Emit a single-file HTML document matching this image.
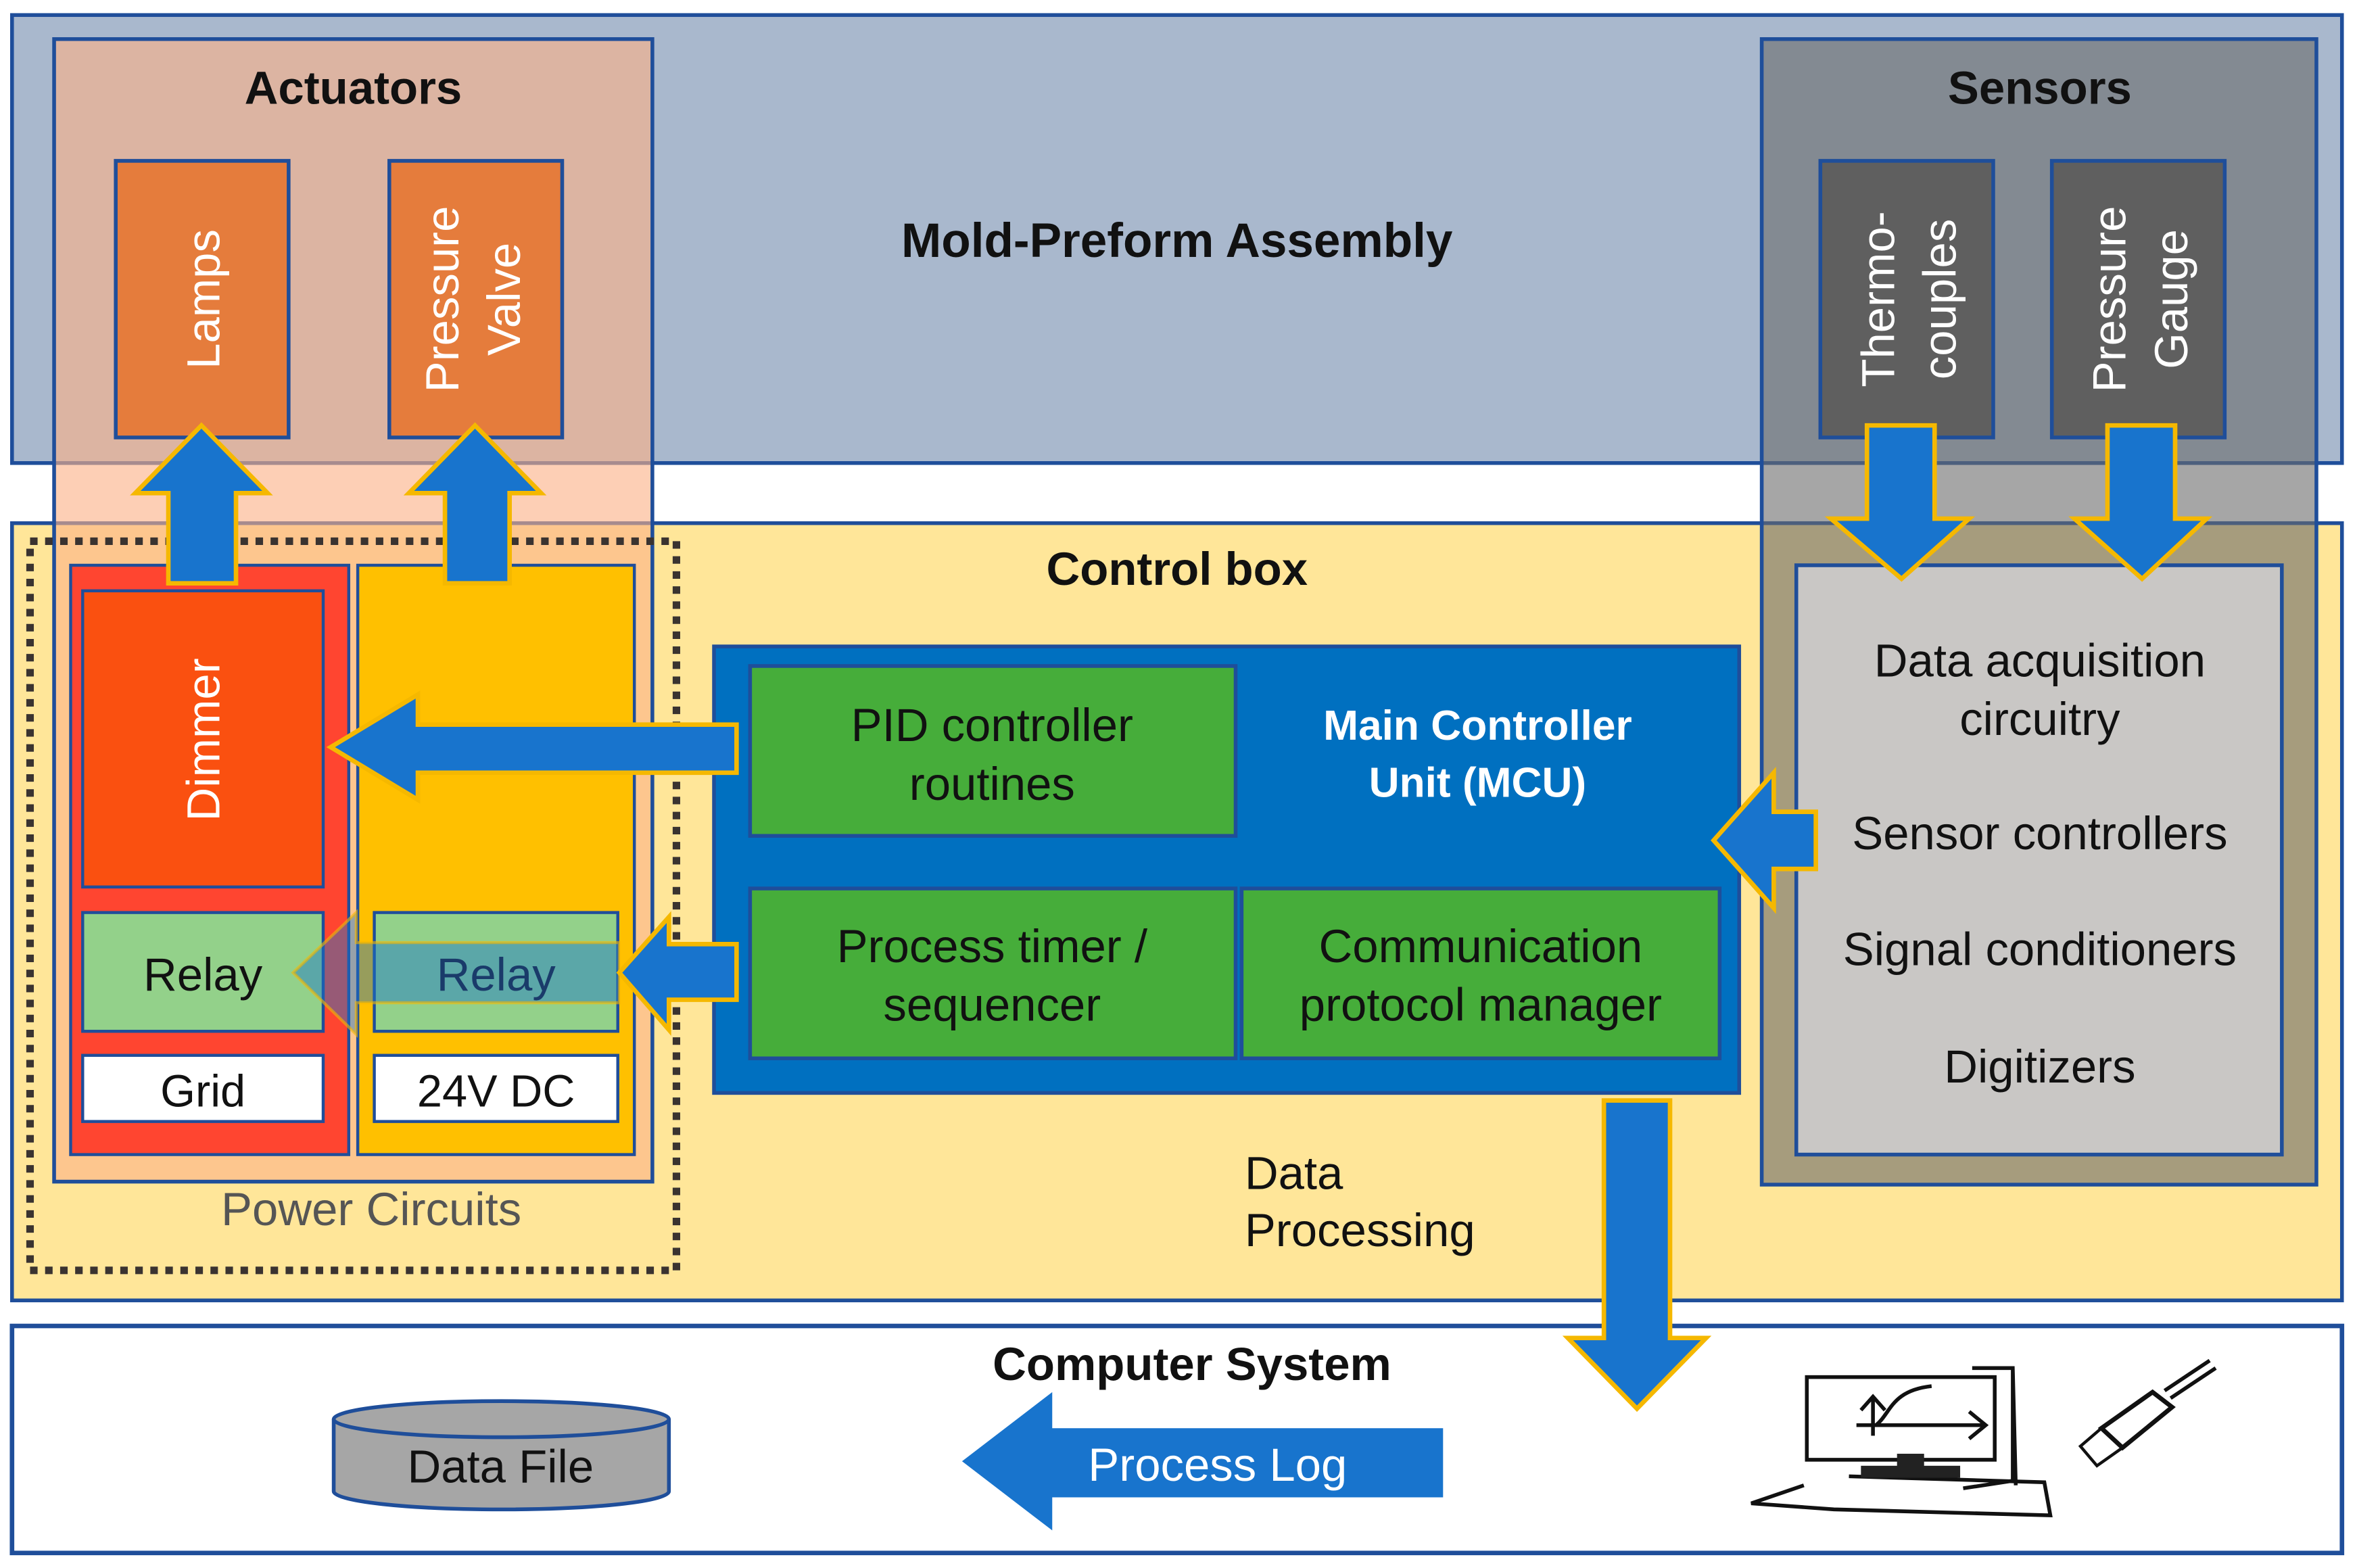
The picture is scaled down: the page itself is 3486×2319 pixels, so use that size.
<!DOCTYPE html>
<html><head><meta charset="utf-8"><style>
html,body{margin:0;padding:0;background:#fff;}
svg{display:block;}
text{font-family:"Liberation Sans",sans-serif;}
</style></head><body>
<svg width="3486" height="2319" viewBox="0 0 1568 1043" preserveAspectRatio="none" xmlns="http://www.w3.org/2000/svg">
<rect x="0" y="0" width="1568" height="1043" fill="#fff"/>
<rect x="8" y="10" width="1550" height="298" fill="#a9b8cd" stroke="#1f4e9a" stroke-width="2.5"/>
<rect x="8" y="348" width="1550" height="517" fill="#ffe699" stroke="#1f4e9a" stroke-width="2.5"/>
<rect x="8" y="882" width="1550" height="151" fill="#fff" stroke="#1f4e9a" stroke-width="3"/>
<rect x="36" y="26" width="398" height="760" fill="#fbb287" fill-opacity="0.62" stroke="#1f4e9a" stroke-width="2.5"/>
<rect x="1172" y="26" width="369" height="762" fill="#6b6b6b" fill-opacity="0.6" stroke="#1f4e9a" stroke-width="2.5"/>
<rect x="20" y="360" width="430" height="485" fill="none" stroke="#3a3330" stroke-width="5" stroke-dasharray="5,5"/>
<rect x="47" y="376" width="185" height="392" fill="#ff4530" stroke="#1f4e9a" stroke-width="2"/>
<rect x="238" y="376" width="184" height="392" fill="#ffc000" stroke="#1f4e9a" stroke-width="2"/>
<rect x="55" y="393" width="160" height="197" fill="#fa5010" stroke="#1f4e9a" stroke-width="2"/>
<text transform="translate(146,492) rotate(-90)" text-anchor="middle" font-size="31" fill="#fff">Dimmer</text>
<rect x="55" y="607" width="160" height="79" fill="#93d18a" stroke="#1f4e9a" stroke-width="2"/>
<rect x="249" y="607" width="162" height="79" fill="#93d18a" stroke="#1f4e9a" stroke-width="2"/>
<text x="135" y="659" text-anchor="middle" font-size="31" fill="#111">Relay</text>
<rect x="55" y="702" width="160" height="44" fill="#fff" stroke="#1f4e9a" stroke-width="2"/>
<rect x="249" y="702" width="162" height="44" fill="#fff" stroke="#1f4e9a" stroke-width="2"/>
<text x="135" y="736" text-anchor="middle" font-size="30" fill="#111">Grid</text>
<text x="330" y="736" text-anchor="middle" font-size="30" fill="#111">24V DC</text>
<polygon points="412,627 237,627 237,607 195,647 237,688 237,667 412,667" fill="#1874cd" fill-opacity="0.45" stroke="#f5b800" stroke-opacity="0.6" stroke-width="2"/>
<text x="330" y="659" text-anchor="middle" font-size="31" fill="#1a3b6a">Relay</text>
<text x="247" y="815" text-anchor="middle" font-size="31" fill="#555">Power Circuits</text>
<text x="235" y="69" text-anchor="middle" font-size="31" font-weight="bold" fill="#111">Actuators</text>
<rect x="77" y="107" width="115" height="184" fill="#e57c3c" stroke="#1f4e9a" stroke-width="2.5"/>
<rect x="259" y="107" width="115" height="184" fill="#e57c3c" stroke="#1f4e9a" stroke-width="2.5"/>
<text transform="translate(146,199) rotate(-90)" text-anchor="middle" font-size="31" fill="#fff">Lamps</text>
<text transform="translate(305,199) rotate(-90)" text-anchor="middle" font-size="31" fill="#fff">Pressure</text>
<text transform="translate(346,199) rotate(-90)" text-anchor="middle" font-size="31" fill="#fff">Valve</text>
<text x="783" y="171" text-anchor="middle" font-size="32" font-weight="bold" fill="#111">Mold-Preform Assembly</text>
<text x="1357" y="69" text-anchor="middle" font-size="31" font-weight="bold" fill="#111">Sensors</text>
<rect x="1211" y="107" width="115" height="184" fill="#5f5f5f" stroke="#1f4e9a" stroke-width="2.5"/>
<rect x="1365" y="107" width="115" height="184" fill="#5f5f5f" stroke="#1f4e9a" stroke-width="2.5"/>
<text transform="translate(1260,199) rotate(-90)" text-anchor="middle" font-size="31" fill="#fff">Thermo-</text>
<text transform="translate(1301,199) rotate(-90)" text-anchor="middle" font-size="31" fill="#fff">couples</text>
<text transform="translate(1414,199) rotate(-90)" text-anchor="middle" font-size="31" fill="#fff">Pressure</text>
<text transform="translate(1455,199) rotate(-90)" text-anchor="middle" font-size="31" fill="#fff">Gauge</text>
<rect x="1195" y="376" width="323" height="392" fill="#c9c7c5" stroke="#1f4e9a" stroke-width="2.5"/>
<g font-size="31" fill="#111" text-anchor="middle">
<text x="1357" y="450">Data acquisition</text>
<text x="1357" y="489">circuitry</text>
<text x="1357" y="565">Sensor controllers</text>
<text x="1357" y="642">Signal conditioners</text>
<text x="1357" y="720">Digitizers</text>
</g>
<text x="783" y="389" text-anchor="middle" font-size="31" font-weight="bold" fill="#111">Control box</text>
<rect x="475" y="430" width="682" height="297" fill="#0070c0" stroke="#1f4e9a" stroke-width="2.5"/>
<rect x="499" y="443" width="323" height="113" fill="#46ad3a" stroke="#1f4e9a" stroke-width="2.5"/>
<rect x="499" y="591" width="323" height="113" fill="#46ad3a" stroke="#1f4e9a" stroke-width="2.5"/>
<rect x="826" y="591" width="318" height="113" fill="#46ad3a" stroke="#1f4e9a" stroke-width="2.5"/>
<g font-size="31" fill="#111" text-anchor="middle">
<text x="660" y="493">PID controller</text>
<text x="660" y="532">routines</text>
<text x="660" y="640">Process timer /</text>
<text x="660" y="679">sequencer</text>
<text x="985" y="640">Communication</text>
<text x="985" y="679">protocol manager</text>
</g>
<text x="983" y="492" text-anchor="middle" font-size="28" font-weight="bold" fill="#fff">Main Controller</text>
<text x="983" y="530" text-anchor="middle" font-size="28" font-weight="bold" fill="#fff">Unit (MCU)</text>
<text x="828" y="791" font-size="31" fill="#111">Data</text>
<text x="828" y="829" font-size="31" fill="#111">Processing</text>
<g fill="#1874cd" stroke="#f5b800" stroke-width="3" stroke-linejoin="miter">
<polygon points="112,388 112,328 90,328 134,283 178,328 157,328 157,388"/>
<polygon points="296,388 296,328 272,328 316,283 360,328 339,328 339,388"/>
<polygon points="1242,283 1287,283 1287,345 1310,345 1265,385 1218,345 1242,345"/>
<polygon points="1402,283 1447,283 1447,345 1468,345 1425,385 1380,345 1402,345"/>
<polygon points="490,482 278,482 278,462 220,497 278,532 278,514 490,514"/>
<polygon points="490,628 445,628 445,610 412,647 445,685 445,665 490,665"/>
<polygon points="1208,540 1180,540 1180,514 1140,559 1180,604 1180,578 1208,578"/>
<polygon points="1067,732 1111,732 1111,890 1135,890 1089,937 1043,890 1067,890"/>
</g>
<polygon points="960,950 700,950 700,926 640,972 700,1018 700,996 960,996" fill="#1874cd"/>
<text x="810" y="985" text-anchor="middle" font-size="31" fill="#fff">Process Log</text>
<text x="793" y="918" text-anchor="middle" font-size="31" font-weight="bold" fill="#111">Computer System</text>
<path d="M222,944 L222,992 A111,12 0 0 0 445,992 L445,944" fill="#a6a6a6" stroke="#1f4e9a" stroke-width="2.5"/>
<ellipse cx="333.5" cy="944" rx="111.5" ry="12" fill="#a6a6a6" stroke="#1f4e9a" stroke-width="2.5"/>
<text x="333" y="986" text-anchor="middle" font-size="31" fill="#111">Data File</text>
<g fill="none" stroke="#111" stroke-width="2.5">
<rect x="1202" y="916" width="125" height="55"/>
<path d="M1246,955 V929 M1238,938 L1246,929 L1254,938 M1235,948 H1321 M1310,939 L1321,948 L1310,957 M1248,948 C1258,940 1258,925 1285,922"/>
<path d="M1312,910 L1339,910 L1341,988 M1339,910 V985 L1306,990"/>
<path d="M1200,988 L1165,1000 L1220,1004 L1364,1008 L1360,986 L1230,982"/>
<path d="M1398,950 L1432,926 L1445,936 L1412,963 Z" stroke-width="3"/>
<path d="M1384,962 L1398,950 L1412,963 L1395,975 Z" stroke-width="2"/>
<path d="M1440,925 L1470,905 M1444,930 L1474,910"/>
</g>
<rect x="1262" y="967" width="18" height="10" fill="#222"/>
<rect x="1238" y="975" width="66" height="8" fill="#222"/>
</svg>
</body></html>
